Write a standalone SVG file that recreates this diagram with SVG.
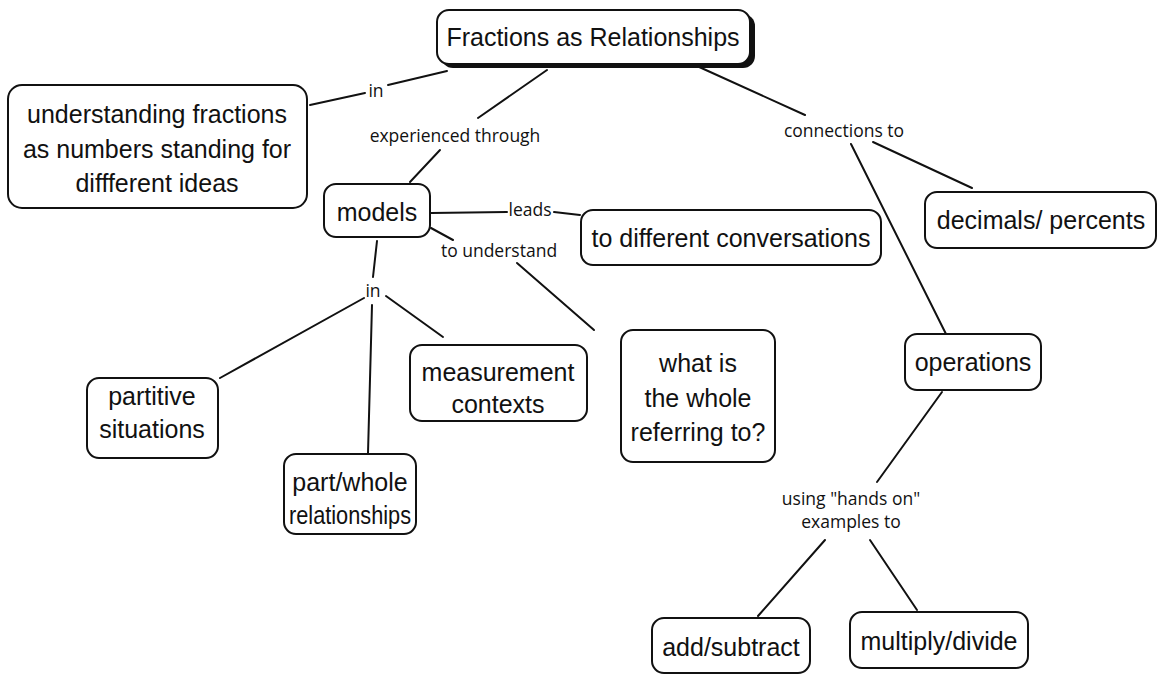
<svg xmlns="http://www.w3.org/2000/svg" width="1159" height="681" viewBox="0 0 1159 681">
  <style>
    .box { fill: #ffffff; stroke: #111111; stroke-width: 2; }
    .shadow { fill: #111111; }
    .node { font-family: "Liberation Sans", Arial, sans-serif; font-size: 25px; fill: #111111; text-anchor: middle; }
    .lbl { font-family: "Open Sans", "Noto Sans", sans-serif; font-size: 17.5px; fill: #111111; text-anchor: middle; }
    .link { stroke: #111111; stroke-width: 2; fill: none; stroke-linecap: round; }
  </style>
  <rect width="1159" height="681" fill="#ffffff"/>

  <!-- connectors and their labels -->
  <g id="connectors">
    <path class="link" d="M310,105 L365,93"/>
    <path class="link" d="M388,85 L447,71"/>
    <path class="link" d="M547,70 L478,118"/>
    <path class="link" d="M440,150 L410,182"/>
    <path class="link" d="M697,66 L805,115"/>
    <path class="link" d="M873,142 L972,188"/>
    <path class="link" d="M851,144 L946,334"/>
    <path class="link" d="M431,213 L507,212"/>
    <path class="link" d="M554,212 L580,215"/>
    <path class="link" d="M431,228 L453,240"/>
    <path class="link" d="M517,263 L594,330"/>
    <path class="link" d="M377,241 L373,277"/>
    <path class="link" d="M364,298 L220,378"/>
    <path class="link" d="M372,305 L368,453"/>
    <path class="link" d="M386,296 L443,337"/>
    <path class="link" d="M942,392 L877,482"/>
    <path class="link" d="M825,540 L758,616"/>
    <path class="link" d="M870,540 L917,610"/>

    <text class="lbl" x="376" y="97">in</text>
    <text class="lbl" x="455" y="142">experienced through</text>
    <text class="lbl" x="844" y="137">connections to</text>
    <text class="lbl" x="530" y="216">leads</text>
    <text class="lbl" x="499" y="257">to understand</text>
    <text class="lbl" x="373" y="297">in</text>
    <text class="lbl" x="851" y="505">using "hands on"</text>
    <text class="lbl" x="851" y="528">examples to</text>
  </g>

  <g id="fractions-as-relationships">
    <rect class="shadow" x="441" y="14" width="314" height="54" rx="12"/>
    <rect class="box" x="437" y="10" width="313" height="54" rx="12" stroke-width="2.5"/>
    <text class="node" x="593" y="46">Fractions as Relationships</text>
  </g>

  <g id="understanding-fractions">
    <rect class="box" x="8" y="85" width="299" height="123" rx="14"/>
    <text class="node" x="157" y="123">understanding fractions</text>
    <text class="node" x="157" y="158">as numbers standing for</text>
    <text class="node" x="157" y="192">diffferent ideas</text>
  </g>

  <g id="models">
    <rect class="box" x="324" y="184" width="106" height="53" rx="12"/>
    <text class="node" x="377" y="221">models</text>
  </g>

  <g id="different-conversations">
    <rect class="box" x="581" y="210" width="300" height="55" rx="12"/>
    <text class="node" x="731" y="247">to different conversations</text>
  </g>

  <g id="decimals-percents">
    <rect class="box" x="925" y="192" width="231" height="56" rx="12"/>
    <text class="node" x="1041" y="229">decimals/ percents</text>
  </g>

  <g id="operations">
    <rect class="box" x="905" y="334" width="136" height="56" rx="12"/>
    <text class="node" x="973" y="371">operations</text>
  </g>

  <g id="partitive-situations">
    <rect class="box" x="87" y="378" width="131" height="80" rx="12"/>
    <text class="node" x="152" y="405">partitive</text>
    <text class="node" x="152" y="438">situations</text>
  </g>

  <g id="part-whole-relationships">
    <rect class="box" x="284" y="454" width="132" height="80" rx="12"/>
    <text class="node" x="350" y="491">part/whole</text>
    <text class="node" x="350" y="524" textLength="122" lengthAdjust="spacingAndGlyphs">relationships</text>
  </g>

  <g id="measurement-contexts">
    <rect class="box" x="410" y="345" width="177" height="76" rx="12"/>
    <text class="node" x="498" y="381">measurement</text>
    <text class="node" x="498" y="413">contexts</text>
  </g>

  <g id="what-is-the-whole">
    <rect class="box" x="621" y="330" width="154" height="132" rx="12"/>
    <text class="node" x="698" y="372">what is</text>
    <text class="node" x="698" y="407">the whole</text>
    <text class="node" x="698" y="441">referring to?</text>
  </g>

  <g id="add-subtract">
    <rect class="box" x="652" y="618" width="158" height="55" rx="12"/>
    <text class="node" x="731" y="656">add/subtract</text>
  </g>

  <g id="multiply-divide">
    <rect class="box" x="850" y="612" width="178" height="56" rx="12"/>
    <text class="node" x="939" y="650">multiply/divide</text>
  </g>
</svg>
